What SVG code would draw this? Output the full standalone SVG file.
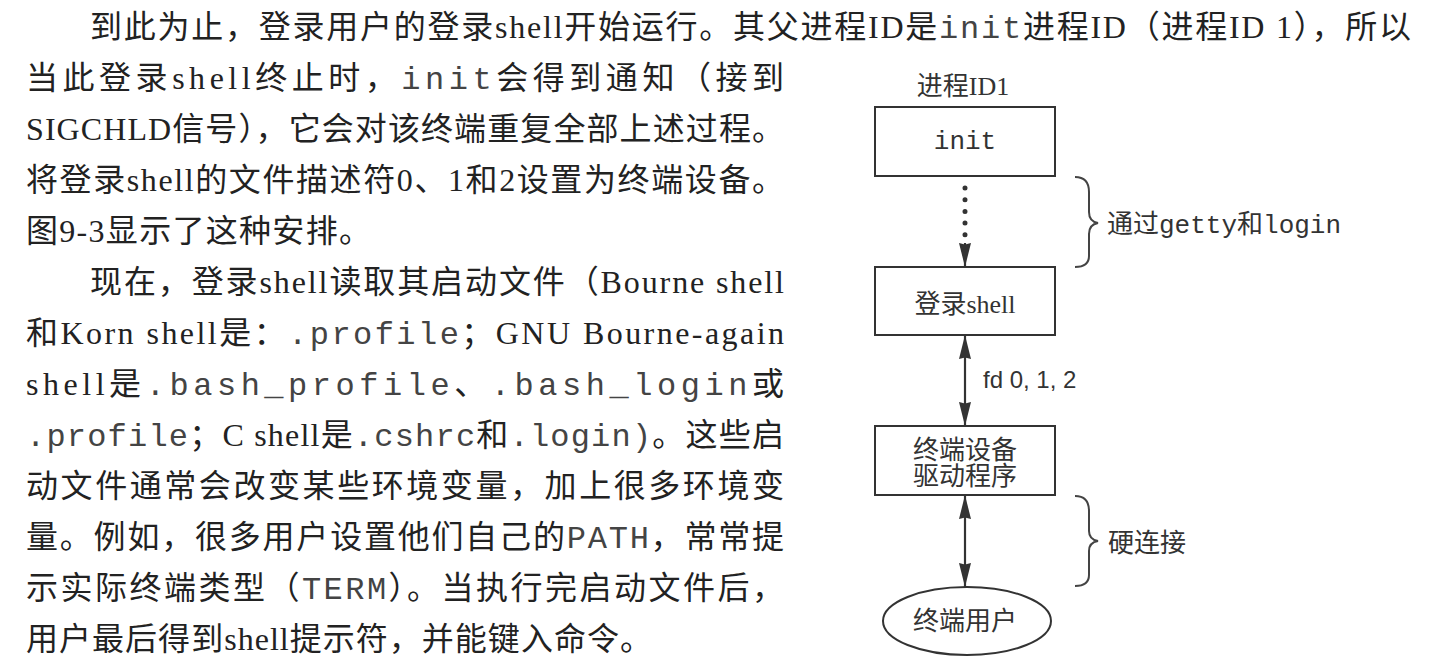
<svg xmlns="http://www.w3.org/2000/svg" width="1442" height="666" viewBox="0 0 1442 666">
<style>
  .body { font-family: "Liberation Serif", "Noto Sans CJK SC", serif; font-size: 32px; fill: #222; }
  .m { font-family: "Liberation Mono", "Noto Sans CJK SC", monospace; fill: #444; }
  .lbl { font-family: "Liberation Serif", "Noto Sans CJK SC", serif; font-size: 26px; fill: #333; }
  .mono { font-family: "Liberation Mono", monospace; }
  .box { fill: #fff; stroke: #333; stroke-width: 2; }
  .conn { fill: none; stroke: #333; stroke-width: 2.2; }
  .dots { fill: none; stroke: #333; stroke-width: 5; stroke-linecap: round; stroke-dasharray: 0 11.7; }
  .brace { fill: none; stroke: #444; stroke-width: 2; }
</style>
<defs>
  <marker id="arr" viewBox="0 0 24 12" refX="24" refY="6" markerWidth="24" markerHeight="12" markerUnits="userSpaceOnUse" orient="auto-start-reverse">
    <path d="M0,0 L24,6 L0,12 L1.5,6 z" fill="#333"/>
  </marker>
</defs>
<rect x="0" y="0" width="1442" height="666" fill="#fff"/>

<g id="body-text" class="body">
  <text x="90" y="37.5" textLength="1321" lengthAdjust="spacing">到此为止，登录用户的登录shell开始运行。其父进程ID是<tspan class="m">init</tspan>进程ID（进程ID 1），所以</text>
  <text x="26" y="88.5" textLength="758" lengthAdjust="spacing">当此登录shell终止时，<tspan class="m">init</tspan>会得到通知（接到</text>
  <text x="26" y="139.5" textLength="758" lengthAdjust="spacing">SIGCHLD信号），它会对该终端重复全部上述过程。</text>
  <text x="26" y="190.5" textLength="758" lengthAdjust="spacing">将登录shell的文件描述符0、1和2设置为终端设备。</text>
  <text x="26" y="241.5" textLength="345" lengthAdjust="spacing">图9-3显示了这种安排。</text>
  <text x="90" y="292.5" textLength="694" lengthAdjust="spacing">现在，登录shell读取其启动文件（Bourne shell</text>
  <text x="26" y="343.5" textLength="758" lengthAdjust="spacing">和Korn shell是：<tspan class="m">.profile</tspan>；GNU Bourne-again</text>
  <text x="26" y="394.5" textLength="758" lengthAdjust="spacing">shell是<tspan class="m">.bash_profile</tspan>、<tspan class="m">.bash_login</tspan>或</text>
  <text x="26" y="445.5" textLength="758" lengthAdjust="spacing"><tspan class="m">.profile</tspan>；C shell是<tspan class="m">.cshrc</tspan>和<tspan class="m">.login)</tspan>。这些启</text>
  <text x="26" y="496.5" textLength="758" lengthAdjust="spacing">动文件通常会改变某些环境变量，加上很多环境变</text>
  <text x="26" y="547.5" textLength="758" lengthAdjust="spacing">量。例如，很多用户设置他们自己的<tspan class="m">PATH</tspan>，常常提</text>
  <text x="26" y="598.5" textLength="758" lengthAdjust="spacing">示实际终端类型（<tspan class="m">TERM</tspan>）。当执行完启动文件后，</text>
  <text x="26" y="649.5" textLength="626" lengthAdjust="spacing">用户最后得到shell提示符，并能键入命令。</text>
</g>

<g id="label-pid">
  <text class="lbl" x="963" y="95" text-anchor="middle">进程ID1</text>
</g>

<g id="node-init">
  <rect class="box" x="875" y="107" width="180" height="69"/>
  <text class="lbl mono" x="965" y="149" font-size="25" text-anchor="middle">init</text>
</g>

<g id="node-shell">
  <rect class="box" x="875" y="267" width="180" height="68"/>
  <text class="lbl" x="965" y="313" text-anchor="middle">登录shell</text>
</g>

<g id="node-tty">
  <rect class="box" x="875" y="426" width="180" height="69"/>
  <text class="lbl" x="965" y="458.5" text-anchor="middle">终端设备</text>
  <text class="lbl" x="965" y="485" text-anchor="middle">驱动程序</text>
</g>

<g id="node-user">
  <ellipse class="box" cx="967" cy="621" rx="84" ry="34"/>
  <text class="lbl" x="965" y="630" text-anchor="middle">终端用户</text>
</g>

<g id="connectors">
  <path class="dots" d="M965,188 L965,238"/>
  <path class="conn" d="M965,243 L965,267" marker-end="url(#arr)"/>
  <path class="conn" d="M965,335 L965,426" marker-start="url(#arr)" marker-end="url(#arr)"/>
  <text x="983" y="388" font-family="Liberation Sans, sans-serif" font-size="24" fill="#333">fd 0, 1, 2</text>
  <path class="conn" d="M965,495 L965,587" marker-start="url(#arr)" marker-end="url(#arr)"/>
</g>

<g id="annotations">
  <path class="brace" d="M1075,177 C1085,177 1089,182 1089,192 L1089,212 C1089,218 1092,222 1098,223 C1092,224 1089,228 1089,234 L1089,256 C1089,263 1085,267 1075,267"/>
  <text class="lbl" x="1107" y="233">通过<tspan class="mono">getty</tspan>和<tspan class="mono">login</tspan></text>
  <path class="brace" d="M1075,496 C1085,496 1089,501 1089,511 L1089,531 C1089,537 1092,540 1098,541 C1092,542 1089,545 1089,551 L1089,575 C1089,582 1085,586 1075,586"/>
  <text class="lbl" x="1108" y="552">硬连接</text>
</g>
</svg>
